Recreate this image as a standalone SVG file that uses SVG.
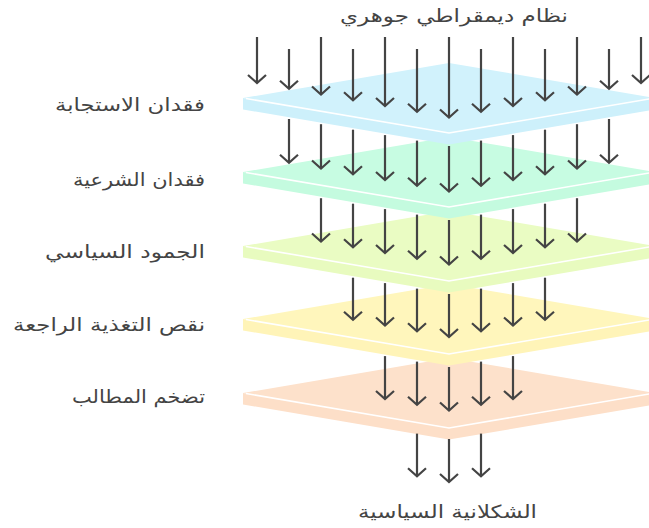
<svg xmlns="http://www.w3.org/2000/svg" width="649" height="528" viewBox="0 0 649 528">
<style>
.lbl{font-family:"DejaVu Sans","Noto Sans",sans-serif;font-size:18px;fill:#444}
.edge{fill:none;stroke:#fff;stroke-width:1.6}
.arr{stroke:#444;stroke-width:2.2;fill:none;marker-end:url(#ah)}
</style>
<defs>
<marker id="ah" markerUnits="userSpaceOnUse" orient="auto" markerWidth="30" markerHeight="30" refX="0" refY="0" viewBox="-15 -15 30 30" overflow="visible">
<path d="M-8,-9 L0,0 L-8,9" fill="none" stroke="#444" stroke-width="2.2" stroke-linejoin="miter"/>
</marker>
</defs>
<rect width="649" height="528" fill="#fff"/>

<g id="layer5">
<polygon points="243,393 449,428 655,393 655,404.5 449,439.5 243,404.5" fill="#fddfc8"/>
<polygon points="243,393 449,358 655,393 449,428" fill="#fde1cb"/>
<polyline class="edge" points="246,393.5 449,428 652,393.5"/>
</g>
<g id="layer4">
<polygon points="243,319 449,354 655,319 655,330.5 449,365.5 243,330.5" fill="#fff4b8"/>
<polygon points="243,319 449,284 655,319 449,354" fill="#fff6bc"/>
<polyline class="edge" points="246,319.5 449,354 652,319.5"/>
</g>
<g id="layer3">
<polygon points="243,246 449,281 655,246 655,257.5 449,292.5 243,257.5" fill="#e8fbbf"/>
<polygon points="243,246 449,211 655,246 449,281" fill="#eafcc3"/>
<polyline class="edge" points="246,246.5 449,281 652,246.5"/>
</g>
<g id="layer2">
<polygon points="243,172 449,207 655,172 655,183.5 449,218.5 243,183.5" fill="#c4fbdf"/>
<polygon points="243,172 449,137 655,172 449,207" fill="#c7fce2"/>
<polyline class="edge" points="246,172.5 449,207 652,172.5"/>
</g>
<g id="layer1">
<polygon points="243,98 449,133 655,98 655,109.5 449,144.5 243,109.5" fill="#cdf0fb"/>
<polygon points="243,98 449,63 655,98 449,133" fill="#d1f2fc"/>
<polyline class="edge" points="246,98.5 449,133 652,98.5"/>
</g>

<g id="connectors">
<path class="arr" d="M257,37 V83"/>
<path class="arr" d="M289,49 V88.7"/>
<path class="arr" d="M321,37 V94.5"/>
<path class="arr" d="M353,49 V100.2"/>
<path class="arr" d="M385,37 V106"/>
<path class="arr" d="M417,49 V111.7"/>
<path class="arr" d="M449,37 V117.5"/>
<path class="arr" d="M481,49 V111.7"/>
<path class="arr" d="M513,37 V106"/>
<path class="arr" d="M545,49 V100.2"/>
<path class="arr" d="M577,37 V94.5"/>
<path class="arr" d="M609,49 V88.7"/>
<path class="arr" d="M641,37 V83"/>
<path class="arr" d="M289,119 V162.7"/>
<path class="arr" d="M321,124.2 V168.5"/>
<path class="arr" d="M353,129.7 V174.2"/>
<path class="arr" d="M385,135.1 V180"/>
<path class="arr" d="M417,140.6 V185.7"/>
<path class="arr" d="M449,146 V191.5"/>
<path class="arr" d="M481,140.6 V185.7"/>
<path class="arr" d="M513,135.1 V180"/>
<path class="arr" d="M545,129.7 V174.2"/>
<path class="arr" d="M577,124.2 V168.5"/>
<path class="arr" d="M609,119 V162.7"/>
<path class="arr" d="M321,198.2 V241.5"/>
<path class="arr" d="M353,203.7 V247.2"/>
<path class="arr" d="M385,209.1 V253"/>
<path class="arr" d="M417,214.6 V258.7"/>
<path class="arr" d="M449,220 V264.5"/>
<path class="arr" d="M481,214.6 V258.7"/>
<path class="arr" d="M513,209.1 V253"/>
<path class="arr" d="M545,203.7 V247.2"/>
<path class="arr" d="M577,198.2 V241.5"/>
<path class="arr" d="M353,277.7 V319.7"/>
<path class="arr" d="M385,283.1 V325.5"/>
<path class="arr" d="M417,288.6 V331.2"/>
<path class="arr" d="M449,294 V337"/>
<path class="arr" d="M481,288.6 V331.2"/>
<path class="arr" d="M513,283.1 V325.5"/>
<path class="arr" d="M545,277.7 V319.7"/>
<path class="arr" d="M385,356.1 V399"/>
<path class="arr" d="M417,361.6 V404.7"/>
<path class="arr" d="M449,367 V410.5"/>
<path class="arr" d="M481,361.6 V404.7"/>
<path class="arr" d="M513,356.1 V399"/>
<path class="arr" d="M417,433.6 V476.2"/>
<path class="arr" d="M449,439 V482"/>
<path class="arr" d="M481,433.6 V476.2"/>
</g>

<g id="title"><text class="lbl" x="454" y="22" text-anchor="middle" textLength="228" lengthAdjust="spacingAndGlyphs">نظام ديمقراطي جوهري</text></g>
<g id="result"><text class="lbl" x="447.5" y="518" text-anchor="middle" textLength="179" lengthAdjust="spacingAndGlyphs">الشكلانية السياسية</text></g>
<g id="label1"><text class="lbl" x="205" y="111" text-anchor="end" textLength="150" lengthAdjust="spacingAndGlyphs">فقدان الاستجابة</text></g>
<g id="label2"><text class="lbl" x="205" y="186" text-anchor="end" textLength="132" lengthAdjust="spacingAndGlyphs">فقدان الشرعية</text></g>
<g id="label3"><text class="lbl" x="205" y="258" text-anchor="end" textLength="160" lengthAdjust="spacingAndGlyphs">الجمود السياسي</text></g>
<g id="label4"><text class="lbl" x="205" y="331" text-anchor="end" textLength="192" lengthAdjust="spacingAndGlyphs">نقص التغذية الراجعة</text></g>
<g id="label5"><text class="lbl" x="205" y="403" text-anchor="end" textLength="133" lengthAdjust="spacingAndGlyphs">تضخم المطالب</text></g>
</svg>
